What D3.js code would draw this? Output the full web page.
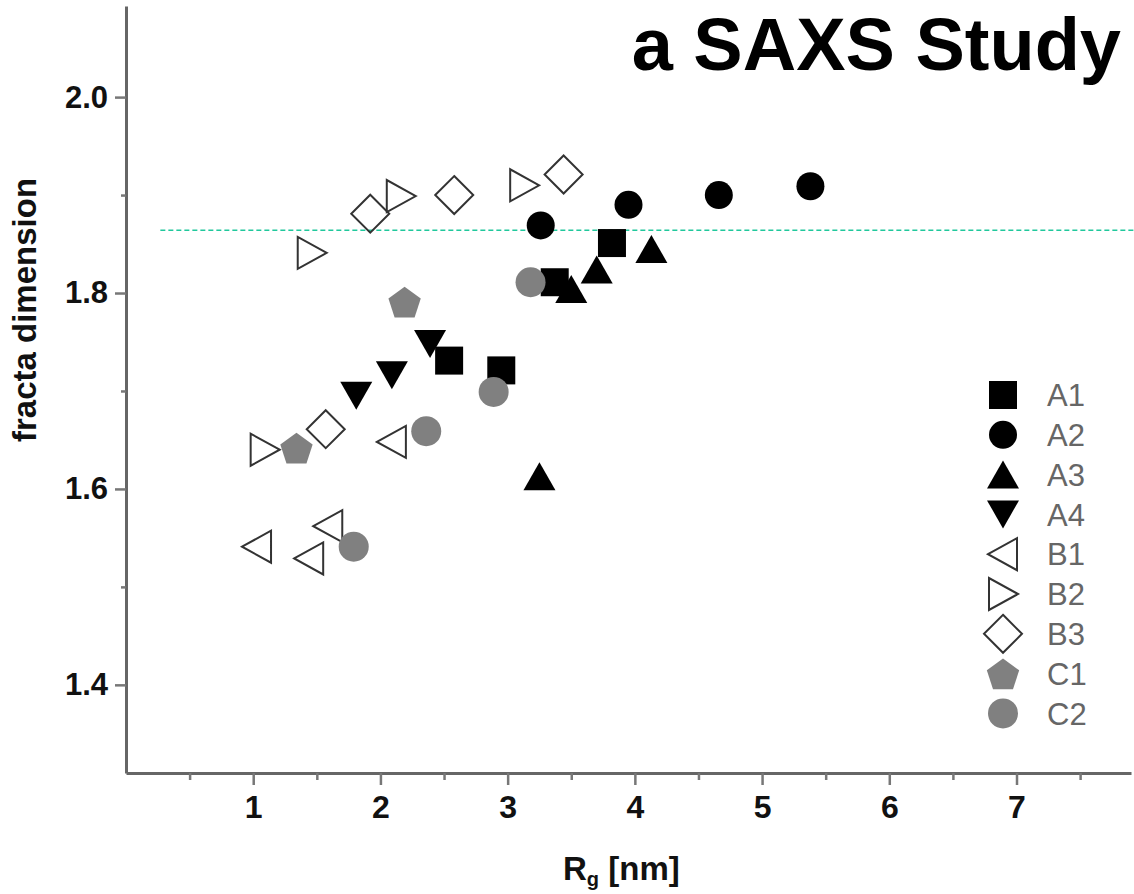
<!DOCTYPE html>
<html lang="en">
<head>
  <meta charset="UTF-8">
  <title>SAXS fractal dimension</title>
  <style>
    body { margin: 0; background: #fff; }
    svg { display: block; font-family: "Liberation Sans", Arial, sans-serif; }
  </style>
</head>
<body>
<script src="https://cdn.jsdelivr.net/npm/d3@7"></script>
<script>
// series data [Rg (nm), fractal dimension]
const A1 = [[2.54, 1.731], [2.95, 1.721], [3.37, 1.811], [3.82, 1.851]]
const A2 = [[3.26, 1.869], [3.95, 1.890], [4.66, 1.900], [5.38, 1.909]]
const A3 = [[3.25, 1.613], [3.50, 1.804], [3.70, 1.824], [4.13, 1.845]]
const A4 = [[1.81, 1.695], [2.09, 1.716], [2.39, 1.748]]
const B1 = [[1.03, 1.541], [1.44, 1.529], [1.59, 1.562], [2.09, 1.648]]
const B2 = [[1.09, 1.640], [1.46, 1.841], [2.16, 1.899], [3.13, 1.910]]
const B3 = [[1.57, 1.661], [1.92, 1.881], [2.58, 1.900], [3.44, 1.921]]
const C1 = [[1.34, 1.642], [2.19, 1.791]]
const C2 = [[1.79, 1.541], [2.36, 1.659], [2.89, 1.699], [3.18, 1.811]]

const seriesNames = ["A1", "A2", "A3", "A4", "B1", "B2", "B3", "C1", "C2"]
const seriesData = [A1, A2, A3, A4, B1, B2, B3, C1, C2]

const xTicks = [1, 2, 3, 4, 5, 6, 7]
const xMinor = [0.5, 1.5, 2.5, 3.5, 4.5, 5.5, 6.5, 7.5]
const yTicks = [1.4, 1.6, 1.8, 2.0]
const yMinor = [1.5, 1.7, 1.9]
const refLevel = 1.864   // dashed reference line
const refStart = 0.27

// marker look per series
const styles = {
  A1: {shape: "square", fill: "#000", stroke: "none"},
  A2: {shape: "circle", fill: "#000", stroke: "none"},
  A3: {shape: "up", fill: "#000", stroke: "none"},
  A4: {shape: "down", fill: "#000", stroke: "none"},
  B1: {shape: "left", fill: "none", stroke: "#333"},
  B2: {shape: "right", fill: "none", stroke: "#333"},
  B3: {shape: "diamond", fill: "none", stroke: "#333"},
  C1: {shape: "pentagon", fill: "#808080", stroke: "none"},
  C2: {shape: "circle2", fill: "#808080", stroke: "none"}
}

const width = 1134, height = 894

const svg = d3.select("body").append("svg")
  .attr("width", width)
  .attr("height", height)

const x = d3.scaleLinear().domain([0, 7.9]).range([126, 1131])
const y = d3.scaleLinear().domain([1.31, 2.093]).range([773, 6])

// marker path centred on its bounding box
function shapePath(shape) {
  switch (shape) {
    case "square": return "M-14,-14H14V14H-14Z"
    case "circle": return "M14,0A14,14 0 1,1 -14,0A14,14 0 1,1 14,0Z"
    case "circle2": return "M15,0A15,15 0 1,1 -15,0A15,15 0 1,1 15,0Z"
    case "up": return "M0,-14L16,14L-16,14Z"
    case "down": return "M0,14L16,-14L-16,-14Z"
    case "left": return "M-15,0L14,-16L14,16Z"
    case "right": return "M15,0L-14,-16L-14,16Z"
    case "diamond": return "M0,-19L19,0L0,19L-19,0Z"
    case "pentagon": {
      const pts = d3.range(5).map(i => {
        const a = -Math.PI / 2 + i * 2 * Math.PI / 5
        return [17 * Math.cos(a), 17 * Math.sin(a) + 2]
      })
      return "M" + pts.join("L") + "Z"
    }
  }
}

// axes
const xAxis = svg.append("g")
  .attr("transform", "translate(0," + y.range()[0] + ")")
  .call(d3.axisBottom(x).tickValues(xTicks).tickSize(12).tickSizeOuter(0).tickFormat(d3.format("d")))
svg.append("g")
  .attr("transform", "translate(0," + y.range()[0] + ")")
  .call(d3.axisBottom(x).tickValues(xMinor).tickSize(7).tickSizeOuter(0).tickFormat(""))
  .call(g => g.select(".domain").remove())

const yAxis = svg.append("g")
  .attr("transform", "translate(" + x.range()[0] + ",0)")
  .call(d3.axisLeft(y).tickValues(yTicks).tickSize(11).tickSizeOuter(0).tickFormat(d3.format(".1f")))
svg.append("g")
  .attr("transform", "translate(" + x.range()[0] + ",0)")
  .call(d3.axisLeft(y).tickValues(yMinor).tickSize(5).tickSizeOuter(0).tickFormat(""))
  .call(g => g.select(".domain").remove())

svg.selectAll(".domain").attr("stroke", "#666").attr("stroke-width", 3)
svg.selectAll(".tick line").attr("stroke", "#777").attr("stroke-width", 2.5)

xAxis.selectAll(".tick text")
  .attr("font-size", 32).attr("font-weight", "bold").attr("fill", "#111")
  .attr("y", 22).attr("dy", "0.71em")
yAxis.selectAll(".tick text")
  .attr("font-size", 31).attr("font-weight", "bold").attr("fill", "#111")
  .attr("x", -18)

// dashed reference line
svg.append("line")
  .attr("x1", x(refStart)).attr("x2", width)
  .attr("y1", y(refLevel)).attr("y2", y(refLevel))
  .attr("stroke", "#20c89c")
  .attr("stroke-width", 1.5)
  .attr("stroke-dasharray", "5,3")

// markers
seriesNames.forEach((name, i) => {
  const st = styles[name]
  svg.append("g")
    .selectAll("path")
    .data(seriesData[i])
    .enter()
    .append("path")
    .attr("d", shapePath(st.shape))
    .attr("transform", d => "translate(" + x(d[0]) + "," + y(d[1]) + ")")
    .attr("fill", st.fill)
    .attr("stroke", st.stroke)
    .attr("stroke-width", 2)
})

// legend
const legend = svg.append("g").attr("transform", "translate(1003,395)")
seriesNames.forEach((name, i) => {
  const st = styles[name]
  const row = legend.append("g").attr("transform", "translate(0," + i * 39.8 + ")")
  row.append("path")
    .attr("d", shapePath(st.shape))
    .attr("fill", st.fill)
    .attr("stroke", st.stroke)
    .attr("stroke-width", 2)
  row.append("text")
    .attr("x", 44)
    .attr("dy", "0.36em")
    .attr("font-size", 31)
    .attr("fill", "#666")
    .text(name)
})

// axis titles
const xTitle = svg.append("text")
  .attr("x", 563)
  .attr("y", 880)
  .attr("font-size", 33)
  .attr("font-weight", "bold")
  .attr("fill", "#111")
xTitle.append("tspan").text("R")
xTitle.append("tspan").attr("font-size", 20).attr("dy", 6).text("g")
xTitle.append("tspan").attr("dy", -6).text(" [nm]")

svg.append("text")
  .attr("transform", "translate(36,310) rotate(-90)")
  .attr("text-anchor", "middle")
  .attr("font-size", 33)
  .attr("font-weight", "bold")
  .attr("fill", "#111")
  .text("fracta dimension")

// heading
svg.append("text")
  .attr("x", 1121)
  .attr("y", 70)
  .attr("text-anchor", "end")
  .attr("font-size", 74)
  .attr("font-weight", "bold")
  .attr("fill", "#000")
  .text("a SAXS Study")
</script>
</body>
</html>
